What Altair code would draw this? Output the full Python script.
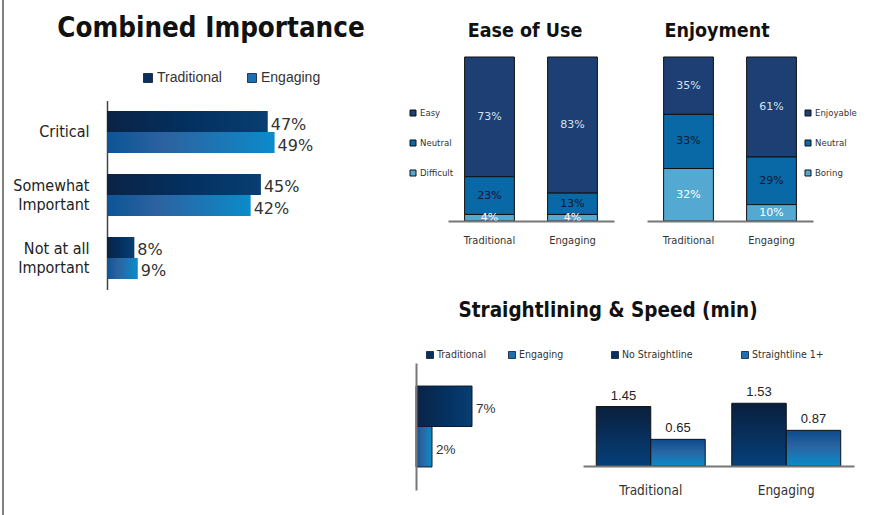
import json
import altair as alt
import pandas as pd

# ---------------- data ----------------
groups = ["Traditional", "Engaging"]

imp_categories = ["Critical", "Somewhat Important", "Not at all Important"]
imp_traditional = [47, 45, 8]
imp_engaging = [49, 42, 9]

ease_levels = ["Easy", "Neutral", "Difficult"]
ease_traditional = [73, 23, 4]
ease_engaging = [83, 13, 4]

enjoy_levels = ["Enjoyable", "Neutral", "Boring"]
enjoy_traditional = [35, 33, 32]
enjoy_engaging = [61, 29, 10]

straightline_pct = [7, 2]  # Traditional, Engaging

speed_series = ["No Straightline", "Straightline 1+"]
speed_traditional = [1.45, 0.65]
speed_engaging = [1.53, 0.87]

# ---------------- styling ----------------
NARROW = "DejaVu Sans Condensed, Liberation Sans, sans-serif"
SANS = "Liberation Sans, sans-serif"
DEJAVU = "DejaVu Sans, sans-serif"
SEG_COLORS = ["#1d3f73", "#0968a6", "#53a9d1"]
SEG_TEXT = ["#d5e1f0", "#0b1a2e", "#ffffff"]
LEG_DARK = "#0b2f5c"
LEG_LIGHT = "#1c70b2"


def grad(stops, vertical=False):
    return alt.LinearGradient(
        gradient="linear",
        stops=[alt.GradientStop(offset=o, color=c) for o, c in stops],
        x1=0, y1=0, x2=0 if vertical else 1, y2=1 if vertical else 0,
    )


TRAD_H = grad([(0, "#0a2345"), (0.5, "#03305f"), (1, "#083e72")])
ENG_H = grad([(0, "#0b5596"), (0.35, "#2d62a0"), (1, "#0b8bca")])
TRAD_V = grad([(0, "#0a1f3d"), (1, "#05407a")], vertical=True)
ENG_V = grad([(0, "#0c4a8c"), (0.45, "#2a64a2"), (1, "#0a8bc9")], vertical=True)


def text_label(text, x, y, size, align="center", weight="bold", font=NARROW, color="#111"):
    return alt.Chart(pd.DataFrame({"t": [text]})).mark_text(
        align=align, baseline="alphabetic", fontSize=size, fontWeight=weight,
        font=font, color=color,
    ).encode(x=alt.value(x), y=alt.value(y), text="t:N")


layers = []

# left frame line
layers.append(
    alt.Chart(pd.DataFrame({"a": [0]})).mark_rule(color="#808080", strokeWidth=2)
    .encode(x=alt.value(3), y=alt.value(0), y2=alt.value(515))
)

# ---------------- Combined Importance ----------------
layers.append(text_label("Combined Importance", 211, 37, 27.5))

imp_df = pd.DataFrame({
    "category": imp_categories * 2,
    "group": ["Traditional"] * 3 + ["Engaging"] * 3,
    "value": imp_traditional + imp_engaging,
})
imp_x = alt.Scale(domain=[0, 100], range=[107, 449], nice=False, zero=True)
imp_y = alt.Scale(type="band", domain=imp_categories, range=[100.5, 289.5],
                  paddingInner=0.333, paddingOuter=0.1667)
imp_yoff = alt.Scale(type="band", domain=groups, paddingInner=0, paddingOuter=0)
imp_yoff_txt = alt.Scale(type="point", domain=groups, padding=0.5)
imp_axis = alt.Axis(
    orient="left", offset=-107, title=None, ticks=False, grid=False,
    domainColor="#444", domainWidth=1.5, labelPadding=18, labelFont=NARROW,
    labelFontSize=16, labelColor="#222", labelLineHeight=19,
    labelOffset={"condition": {"test": "datum.label == 'Critical'", "value": 0}, "value": -9},
    labelExpr="datum.label == 'Critical' ? datum.label : [replace(datum.label, ' Important', ''), 'Important']",
)

for g, fill in zip(groups, [TRAD_H, ENG_H]):
    base = alt.Chart(imp_df).transform_filter(alt.datum.group == g)
    layers.append(
        base.mark_bar(fill=fill).encode(
            x=alt.X("value:Q", scale=imp_x, axis=None),
            y=alt.Y("category:N", scale=imp_y, axis=imp_axis if g == "Traditional" else None),
            yOffset=alt.YOffset("group:N", scale=imp_yoff),
        )
    )
layers.append(
    alt.Chart(imp_df).transform_calculate(lbl="datum.value + '%'").mark_text(
        align="left", baseline="middle", dx=3, dy=3, font=DEJAVU, fontSize=16, color="#333"
    ).encode(
        x=alt.X("value:Q", scale=imp_x, axis=None),
        y=alt.Y("category:N", scale=imp_y, axis=None),
        yOffset=alt.YOffset("group:N", scale=imp_yoff_txt),
        text="lbl:N",
    )
)


# legend (Traditional / Engaging)
def series_legend(names, colors, x_range, y, size, font, fsize, dx):
    df = pd.DataFrame({"name": names})
    xs = alt.Scale(type="point", domain=names, range=x_range, padding=0)
    sq = alt.Chart(df).mark_square(size=size, stroke="#0a1a30", strokeWidth=0.8, opacity=1).encode(
        x=alt.X("name:N", scale=xs, axis=None),
        y=alt.value(y),
        color=alt.Color("name:N", scale=alt.Scale(domain=names, range=colors), legend=None),
    )
    tx = alt.Chart(df).mark_text(align="left", baseline="middle", dx=dx, font=font, fontSize=fsize, color="#333").encode(
        x=alt.X("name:N", scale=xs, axis=None),
        y=alt.value(y),
        text="name:N",
    )
    return [sq, tx]


layers += series_legend(groups, [LEG_DARK, LEG_LIGHT], [148, 252], 78, 81, SANS, 14, 9)


# ---------------- stacked panels ----------------
def stacked_panel(title, levels, trad, eng, x0, x1, title_x, leg_x):
    out = [text_label(title, title_x, 37, 19.5)]
    df = pd.DataFrame({
        "group": [g for g in groups for _ in levels],
        "level": levels * 2,
        "value": trad + eng,
    })
    order_expr = f"indexof({json.dumps(levels[::-1])}, datum.level)"
    base = (
        alt.Chart(df)
        .transform_calculate(ord=order_expr)
        .transform_stack(stack="value", groupby=["group"], as_=["y0", "y1"],
                         sort=[alt.SortField("ord", order="ascending")])
        .transform_calculate(mid="(datum.y0 + datum.y1) / 2", lbl="datum.value + '%'")
    )
    xs = alt.Scale(type="band", domain=groups, range=[x0, x1], paddingInner=0.4, paddingOuter=0.2)
    ys = alt.Scale(domain=[0, 100], range=[221, 57], nice=False)
    xaxis = alt.Axis(
        orient="bottom", offset=-(515 - 221), title=None, ticks=False, grid=False,
        domainColor="#777", domainWidth=2, labelPadding=13, labelFont=NARROW,
        labelFontSize=11, labelColor="#333", labelAngle=0, zindex=1,
    )
    out.append(
        base.mark_bar(stroke="#111", strokeWidth=1).encode(
            x=alt.X("group:N", scale=xs, axis=xaxis),
            y=alt.Y("y0:Q", scale=ys, axis=None),
            y2="y1:Q",
            color=alt.Color("level:N", scale=alt.Scale(domain=levels, range=SEG_COLORS), legend=None),
        )
    )
    out.append(
        base.mark_text(baseline="middle", font=DEJAVU, fontSize=11).encode(
            x=alt.X("group:N", scale=xs, axis=None),
            y=alt.Y("mid:Q", scale=ys, axis=None),
            text="lbl:N",
            color=alt.Color("level:N", scale=alt.Scale(domain=levels, range=SEG_TEXT), legend=None),
        )
    )
    ldf = pd.DataFrame({"level": levels})
    ly = alt.Scale(type="point", domain=levels, range=[113, 173], padding=0)
    out.append(
        alt.Chart(ldf).mark_square(size=36, stroke="#111", strokeWidth=1, opacity=1).encode(
            x=alt.value(leg_x), y=alt.Y("level:N", scale=ly, axis=None),
            color=alt.Color("level:N", scale=alt.Scale(domain=levels, range=SEG_COLORS), legend=None),
        )
    )
    out.append(
        alt.Chart(ldf).mark_text(align="left", baseline="middle", font=NARROW, fontSize=9.5, color="#333").encode(
            x=alt.value(leg_x + 7), y=alt.Y("level:N", scale=ly, axis=None), text="level:N",
        )
    )
    return out


layers += stacked_panel("Ease of Use", ease_levels, ease_traditional, ease_engaging, 448, 614, 525, 413)
layers += stacked_panel("Enjoyment", enjoy_levels, enjoy_traditional, enjoy_engaging, 647, 813, 717, 808)

# ---------------- Straightlining & Speed ----------------
layers.append(text_label("Straightlining & Speed (min)", 608, 317, 20.5))
layers += series_legend(groups, [LEG_DARK, LEG_LIGHT], [430, 512], 355, 49, NARROW, 10.5, 7)
layers += series_legend(speed_series, [LEG_DARK, LEG_LIGHT], [615, 745], 355, 49, NARROW, 10.5, 7)

sl_df = pd.DataFrame({"group": groups, "pct": straightline_pct})
sl_x = alt.Scale(domain=[0, 10], range=[416, 496], nice=False, zero=True)
sl_y = alt.Scale(type="band", domain=groups, range=[363, 490], paddingInner=0, paddingOuter=0.57)
sl_axis = alt.Axis(orient="left", offset=-416, labels=False, ticks=False, title=None, grid=False,
                   domainColor="#777", domainWidth=2, zindex=1)
for g, fill in zip(groups, [TRAD_H, ENG_H]):
    layers.append(
        alt.Chart(sl_df).transform_filter(alt.datum.group == g)
        .mark_bar(fill=fill, stroke="#0b1a30", strokeWidth=1).encode(
            x=alt.X("pct:Q", scale=sl_x, axis=None),
            y=alt.Y("group:N", scale=sl_y, axis=sl_axis if g == "Traditional" else None),
        )
    )
layers.append(
    alt.Chart(sl_df).transform_calculate(lbl="datum.pct + '%'").mark_text(
        align="left", baseline="middle", dx=4, dy=3, font=SANS, fontSize=13.5, color="#333"
    ).encode(
        x=alt.X("pct:Q", scale=sl_x, axis=None),
        y=alt.Y("group:N", scale=sl_y, axis=None),
        text="lbl:N",
    )
)

speed_df = pd.DataFrame({
    "group": [g for g in groups for _ in speed_series],
    "series": speed_series * 2,
    "value": speed_traditional + speed_engaging,
})
sp_x = alt.Scale(type="band", domain=groups, range=[583, 854], paddingInner=0.196, paddingOuter=0.098)
sp_xoff = alt.Scale(type="band", domain=speed_series, paddingInner=0, paddingOuter=0)
sp_xoff_txt = alt.Scale(type="point", domain=speed_series, padding=0.5)
sp_y = alt.Scale(domain=[0, 2], range=[466, 384], nice=False, zero=True)
sp_axis = alt.Axis(orient="bottom", offset=-49, title=None, ticks=False, grid=False,
                   domainColor="#777", domainWidth=2, labelPadding=17, labelFont=NARROW,
                   labelFontSize=13.5, labelColor="#333", labelAngle=0, zindex=1)
for s, fill in zip(speed_series, [TRAD_V, ENG_V]):
    layers.append(
        alt.Chart(speed_df).transform_filter(alt.datum.series == s)
        .mark_bar(fill=fill, stroke="#111", strokeWidth=1).encode(
            x=alt.X("group:N", scale=sp_x, axis=sp_axis if s == speed_series[0] else None),
            xOffset=alt.XOffset("series:N", scale=sp_xoff),
            y=alt.Y("value:Q", scale=sp_y, axis=None),
        )
    )
layers.append(
    alt.Chart(speed_df).transform_calculate(lbl="format(datum.value, '.2f')").mark_text(
        baseline="bottom", dy=-4, font=SANS, fontSize=13, color="#222"
    ).encode(
        x=alt.X("group:N", scale=sp_x, axis=None),
        xOffset=alt.XOffset("series:N", scale=sp_xoff_txt),
        y=alt.Y("value:Q", scale=sp_y, axis=None),
        text="lbl:N",
    )
)

chart = (
    alt.layer(*layers)
    .resolve_scale(x="independent", y="independent", color="independent",
                   xOffset="independent", yOffset="independent")
    .properties(width=876, height=515, padding=0, autosize="none", background="white")
    .configure_view(stroke="transparent")
)

chart.save("out.html", embed_options={"renderer": "svg", "actions": False})
